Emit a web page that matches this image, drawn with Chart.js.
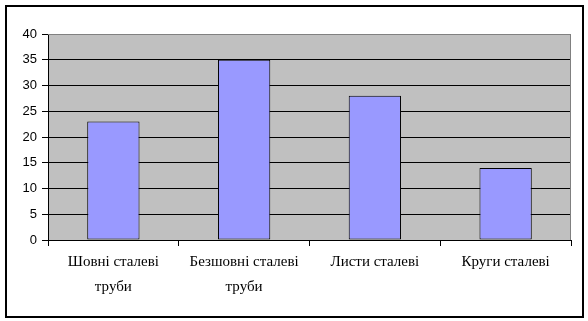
<!DOCTYPE html>
<html>
<head>
<meta charset="utf-8">
<script src="https://cdn.jsdelivr.net/npm/chart.js@4/dist/chart.umd.min.js"></script>
<style>
  html, body { margin:0; padding:0; background:#fff; }
  #wrap { position:relative; width:588px; height:321px; }
  #frame { position:absolute; left:5px; top:5px; width:575px; height:309px; border:2px solid #000; pointer-events:none; }
</style>
</head>
<body>
<div id="wrap">
  <canvas id="c" width="588" height="321"></canvas>
  <div id="frame"></div>
</div>
<script>
const categories = [
  ['Шовні сталеві', 'труби'],
  ['Безшовні сталеві', 'труби'],
  'Листи сталеві',
  'Круги сталеві'
];
const values = [23, 35, 28, 14];
const yTicks = [0, 5, 10, 15, 20, 25, 30, 35, 40];

// gray plot area like the old Excel charts
const plotBg = {
  id: 'plotBg',
  beforeDraw(chart){
    const {ctx, chartArea:a} = chart;
    ctx.save();
    ctx.fillStyle = '#c0c0c0';
    ctx.fillRect(a.left, a.top, a.right - a.left, a.bottom - a.top);
    ctx.restore();
  },
  afterDatasetsDraw(chart){
    const {ctx, chartArea:a} = chart;
    ctx.save();
    ctx.strokeStyle = '#808080';
    ctx.lineWidth = 1;
    ctx.beginPath();
    ctx.moveTo(a.left, a.top + 0.5);
    ctx.lineTo(a.right - 0.5, a.top + 0.5);
    ctx.lineTo(a.right - 0.5, a.bottom);
    ctx.stroke();
    ctx.restore();
  }
};

new Chart(document.getElementById('c'), {
  type: 'bar',
  data: {
    labels: categories,
    datasets: [{
      data: values,
      backgroundColor: '#9999ff',
      borderColor: '#000',
      borderWidth: 1,
      borderSkipped: false,
      barPercentage: 0.4,
      categoryPercentage: 1
    }]
  },
  options: {
    responsive: false,
    animation: false,
    layout: { padding: { left: 0, top: 34, right: 17, bottom: 0 } },
    plugins: { legend: { display: false }, tooltip: { enabled: false } },
    scales: {
      y: {
        min: 0, max: 40,
        afterBuildTicks: s => { s.ticks = yTicks.map(v => ({ value: v })); },
        afterFit: s => { s.width = 48; },
        ticks: { color: '#000', padding: 5, font: { family: "'Liberation Sans', Arial, sans-serif", size: 13 } },
        grid: { color: ctx => ctx.tick && ctx.tick.value === 40 ? '#808080' : '#000', tickColor: '#000', tickLength: 6, lineWidth: 1 },
        border: { color: '#000', width: 1 }
      },
      x: {
        afterFit: s => { s.height = 81; },
        ticks: { color: '#000', padding: 4, maxRotation: 0, font: { family: "'Liberation Serif', 'Times New Roman', serif", size: 15, lineHeight: 1.65 } },
        grid: { offset: true, drawOnChartArea: false, tickColor: '#000', tickLength: 6 },
        border: { color: '#000', width: 1 }
      }
    }
  },
  plugins: [plotBg]
});
</script>
</body>
</html>
